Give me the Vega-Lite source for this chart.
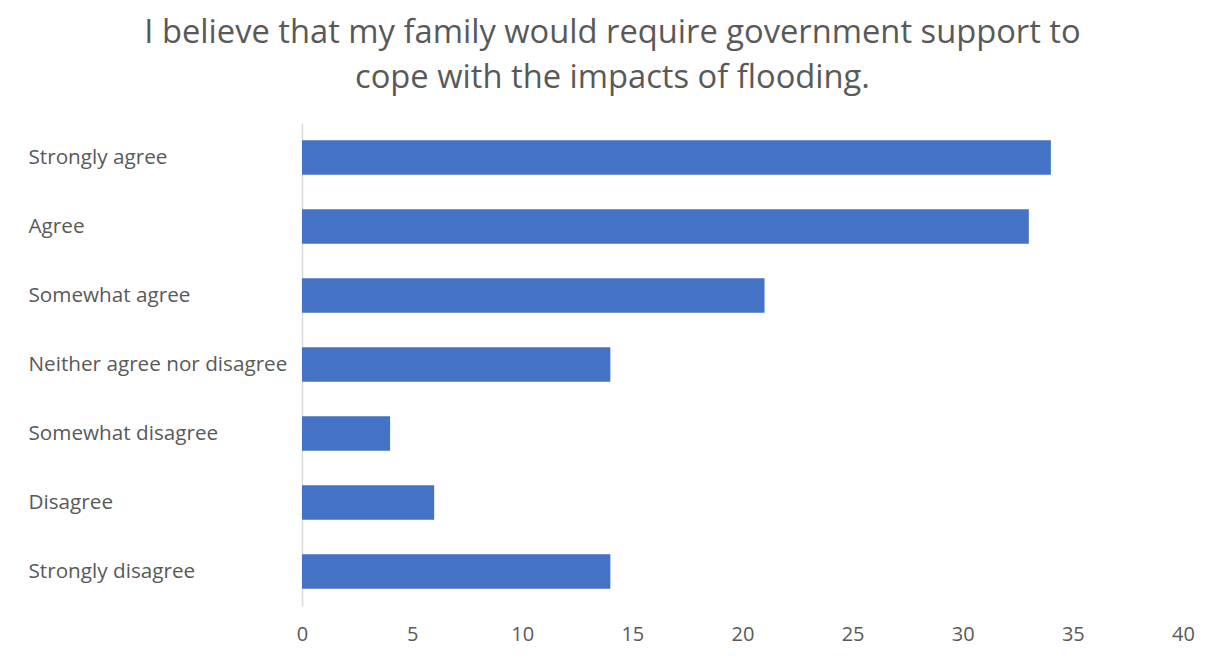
{
  "$schema": "https://vega.github.io/schema/vega-lite/v6.json",
  "width": 881,
  "height": 483,
  "autosize": {"type": "none"},
  "padding": {"left": 302, "top": 123, "right": 42, "bottom": 61},
  "background": "white",
  "config": {"view": {"stroke": null}, "font": "Open Sans"},
  "title": {
    "text": ["I believe that my family would require government support to", "cope with the impacts of flooding."],
    "fontSize": 32.7,
    "font": "Open Sans",
    "fontWeight": "normal",
    "color": "#595959",
    "anchor": "middle",
    "frame": "group",
    "dx": -130,
    "offset": 28,
    "lineHeight": 45
  },
  "data": {
    "values": [
      {"response": "Strongly agree", "count": 34},
      {"response": "Agree", "count": 33},
      {"response": "Somewhat agree", "count": 21},
      {"response": "Neither agree nor disagree", "count": 14},
      {"response": "Somewhat disagree", "count": 4},
      {"response": "Disagree", "count": 6},
      {"response": "Strongly disagree", "count": 14}
    ]
  },
  "mark": {"type": "bar", "color": "#4472C4"},
  "encoding": {
    "y": {
      "field": "response",
      "type": "nominal",
      "sort": null,
      "scale": {"paddingInner": 0.5, "paddingOuter": 0.25},
      "axis": {
        "title": null,
        "labelAlign": "left",
        "labelPadding": 274,
        "labelLimit": 300,
        "labelFontSize": 20.7,
        "labelColor": "#595959",
        "labelFont": "Open Sans",
        "ticks": false,
        "domainColor": "#d9d9d9",
        "domainWidth": 1.5
      }
    },
    "x": {
      "field": "count",
      "type": "quantitative",
      "scale": {"domain": [0, 40], "nice": false},
      "axis": {
        "title": null,
        "values": [0, 5, 10, 15, 20, 25, 30, 35, 40],
        "grid": false,
        "domain": false,
        "ticks": false,
        "labelFlush": false,
        "labelPadding": 18,
        "labelFontSize": 20,
        "labelColor": "#595959",
        "labelFont": "Open Sans"
      }
    }
  }
}
